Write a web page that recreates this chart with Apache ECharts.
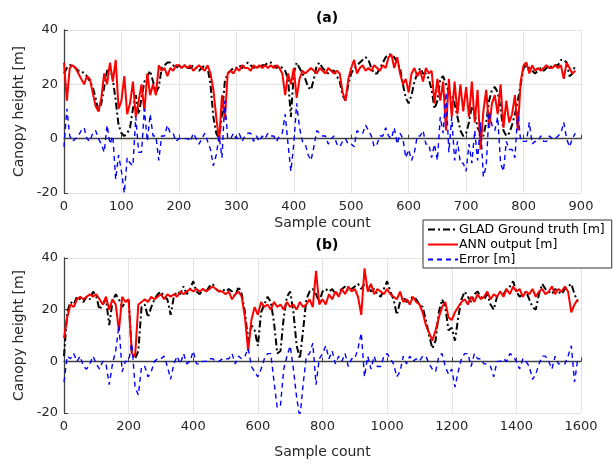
<!DOCTYPE html>
<html><head><meta charset="utf-8">
<script src="https://cdn.jsdelivr.net/npm/echarts@6/dist/echarts.min.js"></script>
<style>html,body{margin:0;padding:0;background:#fff}#c{width:613px;height:464px}</style>
</head><body><div id="c"></div>
<script>
// ---- (a) sample step 5, samples 0..890 ----
const stepA = 5;
const gtA = [24,26,27,27,26,25,25,24,23,21,19,15,10,13,19,25,26,22,14,5,2,1,2,4,11,16,9,15,21,23,25,21,17,19,26,27,28,28,27,26,27,26,27,26,26,27,26,25,26,27,26,20,8,2,0,9,21,24,25,26,26,27,26,27,28,27,26,27,26,27,27,28,28,27,26,27,26,25,22,8,24,28,26,24,22,19,18,22,27,28,26,25,24,25,25,23,21,16,14,20,24,26,27,28,29,30,29,26,24,24,26,28,30,31,31,30,28,26,20,15,13,16,21,24,26,24,24,22,18,11,14,22,23,20,17,16,13,8,3,1,2,6,12,9,4,2,1,6,14,18,19,17,11,3,1,2,5,9,14,20,26,27,26,25,24,25,26,25,26,27,26,27,27,29,29,28,23,24,27];
const annA = [28,14,26,27,26,24,22,20,23,22,17,12,10,15,24,20,28,21,29,11,14,23,9,13,21,8,14,20,10,24,16,20,16,27,25,26,23,26,25,27,27,26,27,26,27,25,26,27,26,25,27,24,18,8,-1,16,7,24,25,24,26,25,27,26,26,25,27,26,27,26,27,26,27,26,27,26,24,16,24,20,26,15,22,25,24,25,26,25,24,26,25,24,26,25,24,25,24,17,14,22,26,29,24,26,27,25,26,25,27,26,25,27,26,30,31,26,30,24,20,22,17,24,26,23,25,21,26,24,25,13,22,14,21,3,22,8,21,9,20,10,19,8,21,6,18,-4,10,18,4,13,16,9,20,4,14,6,9,16,3,21,27,28,24,27,25,26,25,26,27,26,26,27,26,27,22,28,26,24,25];
const errA = [-3,11,1,-1,0,1,3,4,0,-1,2,3,0,-2,-5,5,-2,1,-15,-6,-12,-20,-7,-9,-10,8,-5,-5,11,-1,9,1,1,-8,1,1,5,2,2,-1,0,0,0,0,-1,2,0,-2,0,2,-1,-4,-10,-6,1,-7,14,0,0,2,0,2,-1,1,2,2,-1,1,-1,1,0,2,1,1,-1,1,2,9,-2,-12,-2,13,4,-1,-2,-6,-8,-3,3,2,1,1,-2,0,1,-2,-3,-1,0,-2,-2,-3,3,2,2,5,3,1,-3,-2,1,1,4,1,0,4,-2,2,0,-7,-4,-8,-5,1,1,3,-2,-2,-7,-2,-8,8,2,17,-5,8,-8,-1,-9,-9,-12,-2,-9,3,-8,6,-14,-10,10,5,3,8,-9,-12,-1,-4,-4,-7,10,-1,-1,-1,6,-2,-1,-1,1,-1,-1,1,0,0,1,2,6,0,-3,0,2];
// ---- (b) sample step 10, samples 0..1590 ----
const stepB = 10;
const gtB = [2,19,23,22,25,24,23,25,24,27,25,20,22,24,14,23,26,24,21,23,24,3,1,4,21,22,17,21,24,26,27,25,24,18,25,27,26,29,26,28,31,27,26,28,27,29,30,28,27,28,27,28,27,25,29,26,19,8,14,12,6,19,22,25,23,15,3,4,17,25,27,19,6,1,12,24,27,28,26,23,27,28,27,28,26,27,28,29,27,28,29,30,28,30,29,27,28,26,25,28,31,27,24,18,23,25,23,24,25,24,22,21,16,10,5,8,19,24,21,12,13,8,17,24,27,25,23,26,27,25,24,26,22,20,25,27,26,28,29,31,27,25,26,27,24,21,20,26,30,28,27,26,28,27,26,28,29,30,26,23];
const annB = [9,17,22,21,24,25,24,25,26,25,26,24,22,25,20,24,22,12,25,23,24,3,2,22,23,24,23,25,24,25,26,24,26,25,26,25,27,26,27,28,27,28,27,28,27,28,29,28,27,27,26,27,24,26,27,25,17,4,16,21,18,23,21,22,20,23,21,22,20,23,21,22,20,23,21,22,24,21,35,22,24,22,26,24,27,25,28,26,29,27,28,25,18,36,27,30,26,28,27,26,28,26,25,24,27,23,24,22,25,23,22,19,14,11,8,12,17,21,23,17,16,19,21,23,24,22,25,23,26,24,25,27,24,26,25,27,25,28,26,29,27,28,25,27,26,28,25,27,28,26,27,29,26,28,27,29,27,19,22,24];
const errB = [-8,2,1,3,0,2,-2,-3,-1,2,-1,-3,0,-1,-9,-1,4,14,-4,0,0,7,-10,-13,-2,-2,-6,-4,0,1,1,2,-2,-7,-1,2,-1,3,-1,0,4,-1,-1,0,0,1,1,0,0,1,1,1,3,-1,2,1,2,5,-2,-4,-6,-3,1,3,3,-8,-18,-17,-3,2,6,-3,-14,-22,-9,2,3,7,-9,1,3,6,1,4,-1,2,0,3,-2,1,1,5,11,-6,2,-3,2,-2,-2,2,3,1,-1,-6,-4,2,-1,2,0,1,0,2,2,-1,-3,-4,2,3,-2,-5,-3,-10,-4,1,3,3,-2,3,1,1,-1,-1,-2,-6,0,0,1,0,3,2,0,-3,1,0,-2,-7,-5,-1,2,2,0,-3,2,-1,-1,-1,2,6,-8,1];

const xTicksA = {min:0,max:900,interval:100};
const xTicksB = {min:0,max:1600,interval:200};
const yTicks = {min:-20,max:40,interval:20};
const names = ['GLAD Ground truth [m]','ANN output [m]','Error [m]'];

function pairs(arr, step){ return arr.map((v,i)=>[i*step, v]); }

const FONT = 'DejaVu Sans';
const axisCol = '#404040';
function xAxis(idx, t, gap){
  return {gridIndex:idx,type:'value',min:t.min,max:t.max,interval:t.interval,
    name:'Sample count',nameLocation:'middle',nameGap:gap,
    nameTextStyle:{fontFamily:FONT,fontSize:14,color:'#262626'},
    axisLine:{lineStyle:{color:axisCol,width:1.3}},
    axisTick:{inside:true,length:4,lineStyle:{color:axisCol}},
    axisLabel:{fontFamily:FONT,fontSize:13,color:'#262626',margin:7,formatter:v=>String(v)},
    splitLine:{show:true,lineStyle:{color:'#e3e3e3',width:1}}};
}
function yAxis(idx){
  return {gridIndex:idx,type:'value',min:yTicks.min,max:yTicks.max,interval:yTicks.interval,
    name:'Canopy height [m]',nameLocation:'middle',nameGap:23,
    nameTextStyle:{fontFamily:FONT,fontSize:14,color:'#262626'},
    axisLine:{show:true,lineStyle:{color:axisCol,width:1.3}},
    axisTick:{show:true,inside:true,length:4,lineStyle:{color:axisCol}},
    axisLabel:{fontFamily:FONT,fontSize:13,color:'#262626',margin:6},
    splitLine:{show:true,lineStyle:{color:'#e3e3e3',width:1}}};
}
function series(idx, gt, ann, err, step){
  return [
    {name:names[0],type:'line',xAxisIndex:idx,yAxisIndex:idx,data:pairs(gt,step),symbol:'none',
      lineStyle:{color:'#000',width:2,type:[7,3,2,3]},itemStyle:{color:'#000'},animation:false},
    {name:names[1],type:'line',xAxisIndex:idx,yAxisIndex:idx,data:pairs(ann,step),symbol:'none',
      lineStyle:{color:'#ff0000',width:2},itemStyle:{color:'#ff0000'},animation:false},
    {name:names[2],type:'line',xAxisIndex:idx,yAxisIndex:idx,data:pairs(err,step),symbol:'none',
      lineStyle:{color:'#0000ff',width:1.4,type:[5,4]},itemStyle:{color:'#0000ff'},animation:false}
  ];
}
const chart = echarts.init(document.getElementById('c'),null,{renderer:'canvas'});
chart.setOption({
  backgroundColor:'#fff',
  animation:false,
  title:[
    {text:'(a)',left:322,top:6,textAlign:'center',textStyle:{fontFamily:FONT,fontSize:14,fontWeight:'bold',color:'#000'}},
    {text:'(b)',left:322,top:233,textAlign:'center',textStyle:{fontFamily:FONT,fontSize:14,fontWeight:'bold',color:'#000'}}
  ],
  legend:{orient:'vertical',left:423,top:220,data:names,itemWidth:30,itemHeight:10,itemGap:2,
    padding:[3,7,2,4],backgroundColor:'#fff',borderColor:'#333',borderWidth:1,borderRadius:0,
    itemStyle:{opacity:0,borderWidth:0},
    textStyle:{fontFamily:FONT,fontSize:12.5,color:'#000',padding:[0,0,0,-4]}},
  grid:[{left:64,top:30,width:517,height:163},{left:64,top:258,width:517,height:155}],
  xAxis:[xAxis(0,xTicksA,23),xAxis(1,xTicksB,32)],
  yAxis:[yAxis(0),yAxis(1)],
  series:[...series(0,gtA,annA,errA,stepA),...series(1,gtB,annB,errB,stepB)]
});
</script></body></html>
